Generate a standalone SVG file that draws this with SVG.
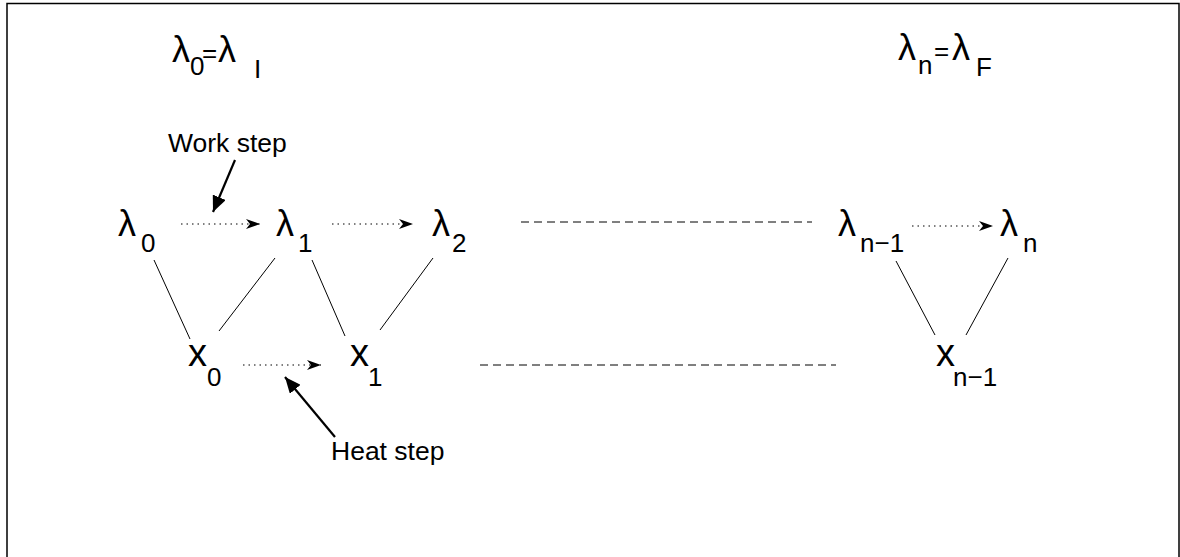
<svg xmlns="http://www.w3.org/2000/svg" width="1180" height="557" viewBox="0 0 1180 557">
<style>
.t{font-family:"Liberation Sans",Arial,sans-serif;fill:#000}
.big{font-size:36px}
.xx{font-size:38px}
.sub{font-size:26px}
.lab{font-size:26.5px}
.edge{stroke:#000;stroke-width:1;fill:none}
.dot{stroke:#000;stroke-width:1;stroke-dasharray:1.5 4;fill:none}
.dash{stroke:#000;stroke-width:1;stroke-dasharray:8 5;fill:none}
.bold{stroke:#000;stroke-width:2.2;fill:none}
</style>
<defs>
<marker id="ah" markerWidth="14" markerHeight="10" refX="14" refY="5" orient="auto" markerUnits="userSpaceOnUse">
<path d="M0,0 L14,5 L0,10 L4,5 z" fill="#000"/>
</marker>
<marker id="ahb" markerWidth="16" markerHeight="14" refX="16" refY="7" orient="auto" markerUnits="userSpaceOnUse">
<path d="M0,0 L16,7 L0,14 z" fill="#000"/>
</marker>
</defs>
<rect x="7" y="3.5" width="1172" height="600" fill="#fff" stroke="#000" stroke-width="1.5"/>

<g id="title-initial">
<text class="t big" x="172" y="62">λ</text><text class="t sub" x="190" y="75">0</text>
<text class="t sub" x="202" y="62">=</text><text class="t big" x="218" y="62">λ</text><text class="t sub" x="254" y="78">I</text>
</g>
<g id="title-final">
<text class="t big" x="898" y="60">λ</text><text class="t sub" x="918" y="74">n</text>
<text class="t sub" x="934" y="60">=</text><text class="t big" x="952" y="60">λ</text><text class="t sub" x="976" y="76">F</text>
</g>

<g id="lambda0"><text class="t big" x="118" y="236">λ</text><text class="t sub" x="141" y="252">0</text></g>
<g id="lambda1"><text class="t big" x="276" y="236">λ</text><text class="t sub" x="298" y="252">1</text></g>
<g id="lambda2"><text class="t big" x="432" y="236">λ</text><text class="t sub" x="452" y="252">2</text></g>
<g id="lambdan1"><text class="t big" x="838" y="236">λ</text><text class="t sub" x="860" y="252">n−1</text></g>
<g id="lambdan"><text class="t big" x="1000" y="236">λ</text><text class="t sub" x="1023" y="252">n</text></g>
<g id="x0"><text class="t xx" x="188" y="366">x</text><text class="t sub" x="207" y="386">0</text></g>
<g id="x1"><text class="t xx" x="350" y="366">x</text><text class="t sub" x="368" y="386">1</text></g>
<g id="xn1"><text class="t xx" x="936" y="366">x</text><text class="t sub" x="953" y="386">n−1</text></g>

<g id="work-label"><text class="t lab" x="168" y="152">Work step</text></g>
<g id="heat-label"><text class="t lab" x="331" y="460">Heat step</text></g>

<g id="connectors">
<line class="dot" x1="181" y1="224" x2="260" y2="224" marker-end="url(#ah)"/>
<line class="dot" x1="332" y1="224" x2="413" y2="224" marker-end="url(#ah)"/>
<line class="dot" x1="912" y1="226" x2="993" y2="226" marker-end="url(#ah)"/>
<line class="dot" x1="243" y1="365" x2="321" y2="365" marker-end="url(#ah)"/>
<line class="dash" x1="521" y1="222" x2="812" y2="222"/>
<line class="dash" x1="480" y1="365" x2="836" y2="365"/>
<line class="edge" x1="154" y1="260" x2="190" y2="339"/>
<line class="edge" x1="219" y1="331" x2="275" y2="258"/>
<line class="edge" x1="312" y1="260" x2="345" y2="336"/>
<line class="edge" x1="380" y1="330" x2="433" y2="258"/>
<line class="edge" x1="896" y1="261" x2="935" y2="335"/>
<line class="edge" x1="966" y1="335" x2="1008" y2="258"/>
<line class="bold" x1="235" y1="160" x2="213" y2="212" marker-end="url(#ahb)"/>
<line class="bold" x1="335" y1="437" x2="285" y2="377" marker-end="url(#ahb)"/>
</g>
</svg>
